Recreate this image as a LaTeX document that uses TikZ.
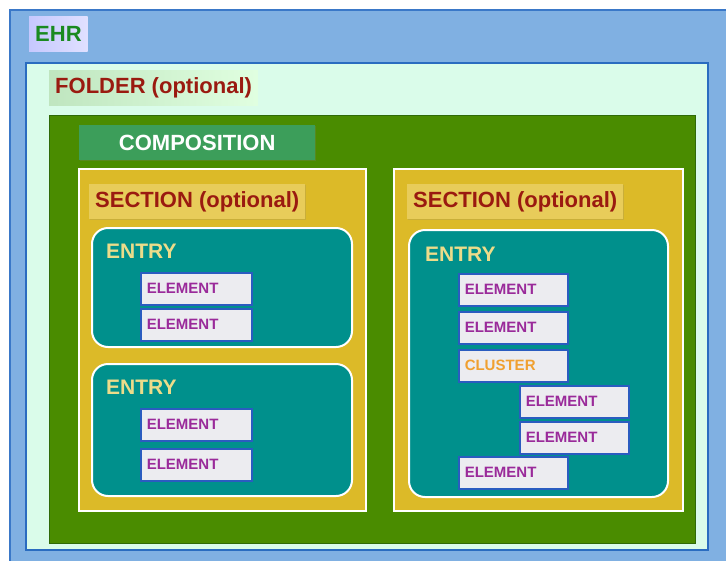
\documentclass[tikz,border=0pt]{standalone}
\usepackage{fontspec}
\setmainfont{Liberation Sans}
\usetikzlibrary{shadows}
\definecolor{ehrfill}{HTML}{80B0E2}
\definecolor{ehrdraw}{HTML}{3A78C8}
\definecolor{folderfill}{HTML}{DAFCEA}
\definecolor{folderdraw}{HTML}{2A6CC0}
\definecolor{compfill}{HTML}{4A8C00}
\definecolor{compdraw}{HTML}{2F6A08}
\definecolor{complbl}{HTML}{3C9E5A}
\definecolor{secfill}{HTML}{DCBA28}
\definecolor{seclbl}{HTML}{E8CC5A}
\definecolor{redtxt}{HTML}{9A1A10}
\definecolor{entryfill}{HTML}{00908C}
\definecolor{entrytxt}{HTML}{ECDC8A}
\definecolor{elemfill}{HTML}{ECECF0}
\definecolor{elemdraw}{HTML}{2A5CC0}
\definecolor{elemtxt}{HTML}{9A2A9A}
\definecolor{clustxt}{HTML}{F0A030}
\definecolor{ehrtxt}{HTML}{1A8A20}
\begin{document}
\begin{tikzpicture}[x=1pt,y=-1pt,
  every node/.style={font=\bfseries},
  container/.style={anchor=north west, inner sep=0pt, outer sep=0pt},
  lbl/.style={anchor=north west, inner xsep=6pt, inner ysep=0pt, minimum height=35pt, font=\fontsize{22}{24}\bfseries\selectfont},
  entrybox/.style={container, fill=entryfill, draw=white, line width=2pt, rounded corners=16pt},
  entrylbl/.style={anchor=west, inner sep=0pt, text=entrytxt, font=\fontsize{21}{24}\bfseries\selectfont},
  elem/.style={anchor=north west, fill=elemfill, draw=elemdraw, line width=1.5pt, inner xsep=6pt, inner ysep=0pt,
    text width=99pt, align=left, minimum height=32pt, text=elemtxt, font=\fontsize{15}{17}\bfseries\selectfont,
    drop shadow={shadow xshift=1pt, shadow yshift=-1.5pt, opacity=0.35}},
  elemr/.style={elem, text width=97pt},
  secbox/.style={container, fill=secfill, draw=white, line width=2pt},
  seclabel/.style={lbl, fill=seclbl, text=redtxt, drop shadow={shadow xshift=1pt, shadow yshift=-1pt, opacity=0.2}}
]
\useasboundingbox (0,0) rectangle (726,560);
\clip (0,0) rectangle (726,560);
\fill[white] (0,0) rectangle (726,560);
% EHR
\node[container, fill=ehrfill, draw=ehrdraw, line width=1.5pt, minimum width=735pt, minimum height=565pt] (ehr) at (10,10) {};
\node[lbl, left color=ehrfill!20!blue!25!white, right color=blue!12!white, text=ehrtxt, minimum width=57pt] (ehrlbl) at (29,16) {EHR};
% FOLDER
\node[container, fill=folderfill, draw=folderdraw, line width=1.5pt, minimum width=682pt, minimum height=487pt] (folder) at (26,63) {};
\node[lbl, left color=green!60!black!25!white, right color=green!12!white, text=redtxt] (folderlbl) at (49,70) {FOLDER (optional)};
% COMPOSITION
\node[container, fill=compfill, draw=compdraw, line width=1pt, minimum width=646pt, minimum height=428pt] (comp) at (49,115) {};
\node[lbl, fill=complbl, text=white, minimum width=236pt, drop shadow={shadow xshift=1pt, shadow yshift=-1pt, opacity=0.25}] (complbl) at (79,125) {COMPOSITION};
% SECTIONS
\node[secbox, minimum width=287pt, minimum height=342pt] (sec1) at (79,169) {};
\node[seclabel] (sec1lbl) at (89,184) {SECTION (optional)};
\node[secbox, minimum width=289pt, minimum height=342pt] (sec2) at (394,169) {};
\node[seclabel] (sec2lbl) at (407,184) {SECTION (optional)};
% ENTRIES
\node[entrybox, minimum width=260pt, minimum height=119pt] (entry1) at (92,228) {};
\node[entrylbl] (entry1lbl) at (106,251) {ENTRY};
\node[entrybox, minimum width=260pt, minimum height=132pt] (entry2) at (92,364) {};
\node[entrylbl] (entry2lbl) at (106,387) {ENTRY};
\node[entrybox, minimum width=259pt, minimum height=267pt] (entry3) at (409,230) {};
\node[entrylbl] (entry3lbl) at (425,254) {ENTRY};
% ELEMENTS left
\node[elem] (e1) at (140,272) {ELEMENT};
\node[elem] (e2) at (140,308) {ELEMENT};
\node[elem] (e3) at (140,408) {ELEMENT};
\node[elem] (e4) at (140,448) {ELEMENT};
% ELEMENTS right
\node[elemr] (e5) at (458,273) {ELEMENT};
\node[elemr] (e6) at (458,311) {ELEMENT};
\node[elemr, text=clustxt] (cl) at (458,349) {CLUSTER};
\node[elemr] (e7) at (519,385) {ELEMENT};
\node[elemr] (e8) at (519,421) {ELEMENT};
\node[elemr] (e9) at (458,456) {ELEMENT};
\end{tikzpicture}
\end{document}
